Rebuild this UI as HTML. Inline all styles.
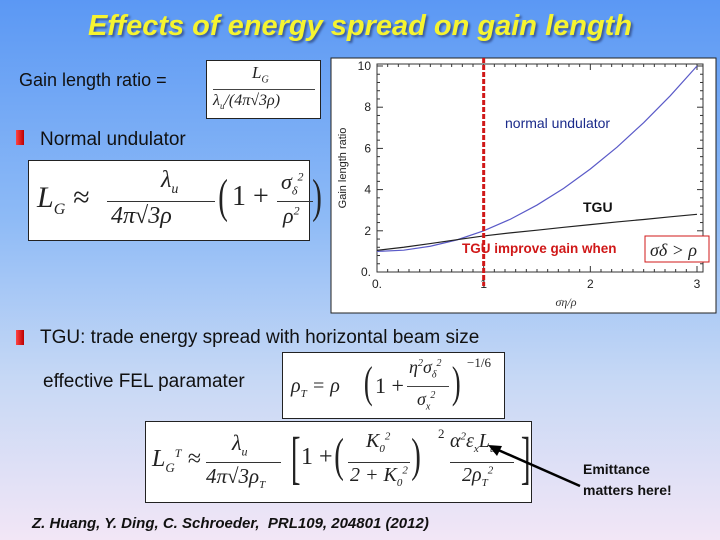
<!DOCTYPE html>
<html><head><meta charset="utf-8"><style>
body{margin:0;width:720px;height:540px;overflow:hidden;font-family:"Liberation Sans",sans-serif;}
#slide{position:absolute;left:0;top:0;width:720px;height:540px;background:linear-gradient(180deg,#5b98f4 0%,#8dbaf6 40%,#c6d8f5 70%,#f2e6f6 100%);}
.abs{position:absolute;white-space:nowrap;}
.box{position:absolute;background:#fff;border:1px solid #222;box-sizing:border-box;}
.m{font-family:"Liberation Serif",serif;font-style:italic;color:#222;}
.bul{position:absolute;width:8px;height:15px;background:linear-gradient(90deg,#f44,#b00);}
</style></head><body>
<div id="slide">
<div class="abs" style="left:0;width:720px;top:10px;text-align:center;font-size:29px;font-weight:bold;font-style:italic;color:#f6f430;text-shadow:2px 2px 2px #3a5a9a;">Effects of energy spread on gain length</div>
<div class="abs" style="left:19px;top:70px;font-size:18px;color:#111;">Gain length ratio =</div>
<div class="box" style="left:206px;top:60px;width:115px;height:59px;">
<div class="abs m" style="left:45px;top:2px;font-size:17px;">L<sub style="font-size:10px">G</sub></div>
<div class="abs" style="left:6px;top:28px;width:102px;border-top:1px solid #444;"></div>
<div class="abs m" style="left:6px;top:31px;font-size:16px;">λ<sub style="font-size:9px">u</sub>/(4π√3ρ)</div></div>
<div class="bul" style="left:16px;top:130px;"></div>
<div class="abs" style="left:40px;top:129px;font-size:19px;color:#111;">Normal undulator</div>
<div class="box" style="left:28px;top:160px;width:282px;height:81px;">
<div class="abs m" style="left:8px;top:20px;font-size:30px;">L<sub style="font-size:16px">G</sub> ≈</div>
<div class="abs m" style="left:132px;top:6px;font-size:24px;">λ<sub style="font-size:14px">u</sub></div>
<div class="abs" style="left:78px;top:40px;width:108px;border-top:1px solid #333;"></div>
<div class="abs m" style="left:82px;top:42px;font-size:24px;">4π√3ρ</div>
<div class="abs m" style="left:186px;top:8px;font-size:48px;font-style:normal;transform:scaleX(0.6);">(</div>
<div class="abs m" style="left:203px;top:20px;font-size:28px;font-style:normal;">1 +</div>
<div class="abs m" style="left:252px;top:8px;font-size:22px;">σ<sub style="font-size:12px">δ</sub><sup style="font-size:12px">2</sup></div>
<div class="abs" style="left:248px;top:40px;width:36px;border-top:1px solid #333;"></div>
<div class="abs m" style="left:254px;top:42px;font-size:22px;">ρ<sup style="font-size:12px">2</sup></div>
<div class="abs m" style="left:280px;top:8px;font-size:48px;font-style:normal;transform:scaleX(0.6);">)</div></div>
<svg class="abs" style="left:0;top:0" width="720" height="540" id="chart">
<rect x="331" y="58" width="385" height="255" fill="#fff" stroke="#222"/>
</svg>
<div class="bul" style="left:16px;top:330px;"></div>
<div class="abs" style="left:40px;top:327px;font-size:19px;color:#111;">TGU: trade energy spread with horizontal beam size</div>
<div class="abs" style="left:43px;top:371px;font-size:19px;color:#111;">effective FEL paramater</div>
<div class="box" style="left:282px;top:352px;width:223px;height:67px;">
<div class="abs m" style="left:8px;top:22px;font-size:20px;">ρ<sub style="font-size:11px">T</sub> = ρ</div>
<div class="abs m" style="left:78px;top:4px;font-size:44px;font-style:normal;transform:scaleX(0.6);">(</div>
<div class="abs m" style="left:92px;top:20px;font-size:22px;font-style:normal;">1 +</div>
<div class="abs m" style="left:126px;top:4px;font-size:18px;">η<sup style="font-size:10px">2</sup>σ<sub style="font-size:10px">δ</sub><sup style="font-size:10px">2</sup></div>
<div class="abs" style="left:124px;top:33px;width:42px;border-top:1px solid #444;"></div>
<div class="abs m" style="left:134px;top:36px;font-size:18px;">σ<sub style="font-size:10px">x</sub><sup style="font-size:10px">2</sup></div>
<div class="abs m" style="left:166px;top:4px;font-size:44px;font-style:normal;transform:scaleX(0.6);">)</div>
<div class="abs m" style="left:184px;top:2px;font-size:13px;font-style:normal;">−1/6</div></div>
<div class="box" style="left:145px;top:421px;width:387px;height:82px;">
<div class="abs m" style="left:6px;top:24px;font-size:24px;">L<sub style="font-size:13px">G</sub><sup style="font-size:12px">T</sup> ≈</div>
<div class="abs m" style="left:86px;top:8px;font-size:22px;">λ<sub style="font-size:12px">u</sub></div>
<div class="abs" style="left:60px;top:40px;width:75px;border-top:1px solid #333;"></div>
<div class="abs m" style="left:60px;top:42px;font-size:21px;">4π√3ρ<sub style="font-size:11px">T</sub></div>
<div class="abs m" style="left:140px;top:2px;font-size:58px;font-style:normal;transform:scaleX(0.5);">[</div>
<div class="abs m" style="left:155px;top:22px;font-size:24px;font-style:normal;">1 +</div>
<div class="abs m" style="left:185px;top:6px;font-size:48px;font-style:normal;transform:scaleX(0.6);">(</div>
<div class="abs m" style="left:220px;top:8px;font-size:20px;">K<sub style="font-size:11px">0</sub><sup style="font-size:11px">2</sup></div>
<div class="abs" style="left:202px;top:40px;width:62px;border-top:1px solid #333;"></div>
<div class="abs m" style="left:204px;top:42px;font-size:20px;">2 + K<sub style="font-size:11px">0</sub><sup style="font-size:11px">2</sup></div>
<div class="abs m" style="left:262px;top:6px;font-size:48px;font-style:normal;transform:scaleX(0.6);">)</div>
<div class="abs m" style="left:292px;top:4px;font-size:13px;font-style:normal;">2</div>
<div class="abs m" style="left:304px;top:8px;font-size:20px;">α<sup style="font-size:11px">2</sup>ε<sub style="font-size:11px">x</sub>L<sub style="font-size:11px">u</sub></div>
<div class="abs" style="left:304px;top:40px;width:64px;border-top:1px solid #333;"></div>
<div class="abs m" style="left:316px;top:42px;font-size:20px;">2ρ<sub style="font-size:11px">T</sub><sup style="font-size:11px">2</sup></div>
<div class="abs m" style="left:370px;top:2px;font-size:58px;font-style:normal;transform:scaleX(0.5);">]</div></div>
<svg class="abs" style="left:0;top:0" width="720" height="540">
<line x1="580" y1="486" x2="496" y2="449" stroke="#000" stroke-width="2.5"/>
<polygon points="488,445 502,446 497,456" fill="#000"/></svg>
<div class="abs" style="left:583px;top:459px;font-size:14px;font-weight:bold;line-height:21px;color:#111;">Emittance<br>matters here!</div>
<div class="abs" style="left:32px;top:515px;font-size:15px;font-style:italic;font-weight:bold;color:#111;">Z. Huang, Y. Ding, C. Schroeder,&nbsp; PRL109, 204801 (2012)</div>
</div>
<script>
const xVals=[0,0.25,0.5,0.75,1,1.25,1.5,1.75,2,2.25,2.5,2.75,3];
const normalVals=[1,1.06,1.25,1.56,2,2.56,3.25,4.06,5,6.06,7.25,8.56,10];
const tguVals=[1.05,1.2,1.38,1.57,1.75,1.9,2.03,2.17,2.3,2.43,2.55,2.68,2.8];
const xTicks=[0,1,2,3];const xTickLabels=["0.","1","2","3"];
const yTicks=[0,2,4,6,8,10];const yTickLabels=["0.","2","4","6","8","10"];
const NS="http://www.w3.org/2000/svg";const svg=document.getElementById('chart');
const X0=377,X1=697,Y0=272,Y1=66;
const sx=v=>X0+(X1-X0)*v/3, sy=v=>Y0-(Y0-Y1)*v/10;
function mk(t,a){const e=document.createElementNS(NS,t);for(const k in a)e.setAttribute(k,a[k]);svg.appendChild(e);return e;}
const ax=mk('rect',{x:X0,y:Y1-2,width:X1-X0+6,height:Y0-Y1+2,fill:'none',stroke:'#333'});


for(let i=0;i<=30;i++){const x=sx(i/10),l=i%10==0?6:3;mk('line',{x1:x,y1:Y0,x2:x,y2:Y0-l,stroke:'#333'});mk('line',{x1:x,y1:Y1-2,x2:x,y2:Y1-2+l,stroke:'#333'});}
for(let i=0;i<=25;i++){const y=sy(i*0.4),l=i%5==0?6:3;mk('line',{x1:X0,y1:y,x2:X0+l,y2:y,stroke:'#333'});mk('line',{x1:X1+6,y1:y,x2:X1+6-l,y2:y,stroke:'#333'});}
xTicks.forEach((v,i)=>{const t=mk('text',{x:sx(v),y:Y0+16,'font-size':12,'text-anchor':'middle',fill:'#222'});t.textContent=xTickLabels[i];

});
yTicks.forEach((v,i)=>{const t=mk('text',{x:X0-6,y:sy(v)+4,'font-size':12,'text-anchor':'end',fill:'#222'});t.textContent=yTickLabels[i];

});
const yt=mk('text',{x:0,y:0,'font-size':11,'text-anchor':'middle',fill:'#222',transform:'translate(346,168) rotate(-90)'});yt.textContent='Gain length ratio';


const xt=mk('text',{x:566,y:306,'font-size':12,'font-style':'italic','font-family':'Liberation Serif','text-anchor':'middle',fill:'#333'});xt.textContent='σ\u03b7/ρ';


function line(vals,c,name){const p=mk('path',{d:vals.map((v,i)=>(i?'L':'M')+sx(xVals[i])+','+sy(v)).join(''),fill:'none',stroke:c,'stroke-width':1.2});

}
line(normalVals,'#5a5ac8','normal-undulator-line');
line(tguVals,'#222','tgu-line');
const rl=mk('line',{x1:sx(1),y1:58,x2:sx(1),y2:Y0+14,stroke:'#d01818','stroke-width':3,'stroke-dasharray':'5,2'});


const l1=mk('text',{x:505,y:128,'font-size':14,fill:'#1a2a8a'});l1.textContent='normal undulator';


const l2=mk('text',{x:583,y:212,'font-size':14,'font-weight':'bold',fill:'#111'});l2.textContent='TGU';


const l3=mk('text',{x:462,y:253,'font-size':13.5,'font-weight':'bold',fill:'#d01818'});l3.textContent='TGU improve gain when';


const rb=mk('rect',{x:645,y:236,width:64,height:26,fill:'#fff',stroke:'#d01818'});


const ct=mk('text',{x:650,y:256,'font-size':18,'font-style':'italic','font-family':'Liberation Serif',fill:'#222'});ct.textContent='σδ > ρ';


</script>
</body></html>
